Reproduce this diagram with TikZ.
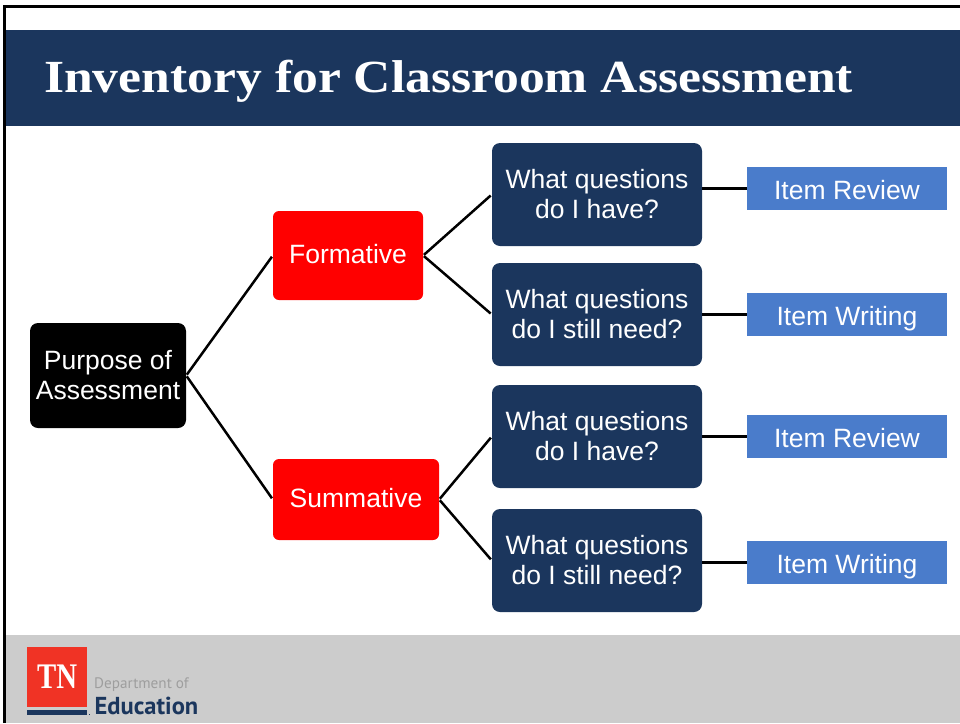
\documentclass[tikz,border=0pt]{standalone}
\usepackage{fontspec}
\setmainfont{Liberation Sans}
\newfontfamily\titlefont[FakeStretch=1.122]{Liberation Serif}
\newfontfamily\logoserif[FakeStretch=0.8]{Liberation Serif}
\newfontfamily\logosans{PT Sans}
\usetikzlibrary{positioning}

\definecolor{navy}{HTML}{1B365D}
\definecolor{itemblue}{HTML}{4A7CCB}
\definecolor{tnred}{HTML}{F03325}
\definecolor{bandgray}{HTML}{CCCCCC}

\tikzset{
    boxtext/.style={text=white,align=center,inner sep=0pt,font=\fontsize{26.5}{30}\selectfont},
    purposebox/.style={boxtext,fill=black,rounded corners=8pt,minimum width=156pt,minimum height=105pt},
    kindbox/.style={boxtext,fill=red,rounded corners=6pt,text height=15.5pt,text depth=0pt},
    questionbox/.style={boxtext,fill=navy,rounded corners=8pt,minimum width=210pt,minimum height=103pt},
    itembox/.style={boxtext,fill=itemblue,minimum width=200pt,minimum height=43pt,text height=22pt,text depth=0pt},
    link/.style={draw=black,line width=2.5pt,shorten <=1pt,shorten >=1.5pt},
}

\begin{document}
\begin{tikzpicture}[x=1pt,y=-1pt]

    \useasboundingbox (0,0) rectangle (960,723);

    % draw header and footer bands
    \fill[navy] (6,30) rectangle (960,126);
    \fill[bandgray] (6,635) rectangle (960,723);
    \draw[line width=3pt] (4.5,723) -- (4.5,6.5) -- (960,6.5);

    \node[anchor=base west,text=white,inner sep=0pt,font=\titlefont\bfseries\fontsize{46}{50}\selectfont] (title) at (44,92) {Inventory for Classroom Assessment};

    % draw the boxes
    \node[purposebox] (purpose) at (108,375.5) {Purpose of\\Assessment};

    \node[kindbox,minimum width=150pt,minimum height=89pt] (formative) at (348,255.5) {Formative};
    \node[kindbox,minimum width=166pt,minimum height=81pt] (summative) at (356,499.5) {Summative};

    \node[questionbox] (have1) at (597,194.5) {What questions\\do I have?};
    \node[questionbox] (need1) at (597,314.5) {What questions\\do I still need?};
    \node[questionbox] (have2) at (597,436.5) {What questions\\do I have?};
    \node[questionbox] (need2) at (597,560.5) {What questions\\do I still need?};

    \node[itembox] (review1) at (847,188.5) {Item Review};
    \node[itembox] (writing1) at (847,314.5) {Item Writing};
    \node[itembox] (review2) at (847,436.5) {Item Review};
    \node[itembox] (writing2) at (847,562.5) {Item Writing};

    % draw connectors
    \draw[link] (purpose.east) -- (formative.west);
    \draw[link] (purpose.east) -- (summative.west);
    \draw[link] (formative.east) -- (have1.west);
    \draw[link] (formative.east) -- (need1.west);
    \draw[link] (summative.east) -- (have2.west);
    \draw[link] (summative.east) -- (need2.west);
    \draw[link,shorten >=0pt,shorten <=0pt] (have1.east |- review1.west) -- (review1.west);
    \draw[link,shorten >=0pt,shorten <=0pt] (need1.east) -- (writing1.west);
    \draw[link,shorten >=0pt,shorten <=0pt] (have2.east) -- (review2.west);
    \draw[link,shorten >=0pt,shorten <=0pt] (need2.east |- writing2.west) -- (writing2.west);

    % logo
    \node[fill=tnred,minimum size=60pt,inner sep=0pt,anchor=north west,text=white,font=\logoserif\bfseries\fontsize{36}{36}\selectfont] (logo) at (27,647) {TN};
    \fill[navy] (27,710) rectangle (87,715);
    \fill[navy] (88.5,713.5) rectangle (90,715);
    \node[anchor=west,inner sep=0pt,text=black!38,font=\logosans\fontsize{15.2}{18}\selectfont] (department) at (94,685) {Department of};
    \node[anchor=west,inner sep=0pt,text=navy,font=\logosans\bfseries\fontsize{24.5}{28}\selectfont] (education) at (94.5,706) {Education};

\end{tikzpicture}
\end{document}
